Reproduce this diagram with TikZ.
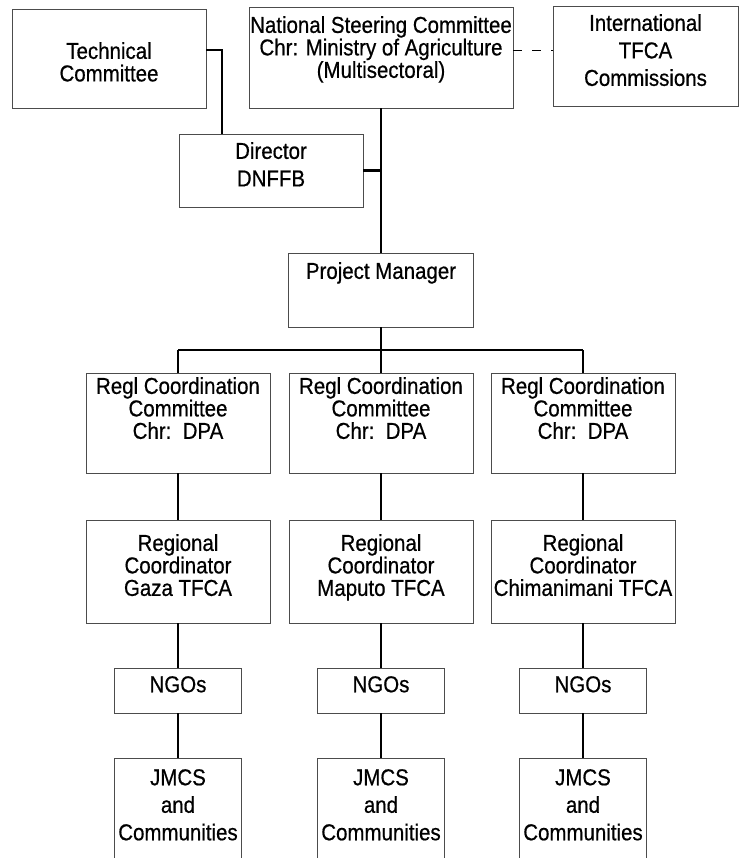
\documentclass[tikz,border=0pt]{standalone}
\usepackage{fontspec}
\setmainfont{Liberation Sans}[FakeStretch=0.89, FakeBold=0.6]
\begin{document}
\begin{tikzpicture}[x=1pt,y=-1pt,
  box/.style={draw=black!70, line width=0.9pt, inner sep=0pt},
  txt/.style={inner sep=0pt, align=center, anchor=north, font=\fontsize{23}{22.5}\selectfont},
  txtw/.style={inner sep=0pt, align=center, anchor=north, font=\fontsize{23}{27.5}\selectfont},
  mainline/.style={line width=2.2pt},
  subline/.style={line width=1.7pt},
  dashlink/.style={line width=0.9pt, dash pattern=on 9pt off 10pt}]
\clip (0,0) rectangle (739,858);
\useasboundingbox (0,0) rectangle (739,858);

% top row
\node[box, minimum width=194pt, minimum height=99pt] (tech) at (109,58.5) {};
\node[txt] (techT) at (109,42) {Technical\\Committee};
\node[box, minimum width=264pt, minimum height=101pt] (nsc) at (381,57.5) {};
\node[txt] (nscT) at (381,16) {National Steering Committee\\Chr: Ministry of Agriculture\\(Multisectoral)};
\node[box, minimum width=185pt, minimum height=100pt] (intl) at (645.5,56) {};
\node[txtw] (intlT) at (645.5,14) {International\\TFCA\\Commissions};

% director and project manager
\node[box, minimum width=184pt, minimum height=73pt] (dir) at (271,170.5) {};
\node[txtw] (dirT) at (271,142) {Director\\DNFFB};
\node[box, minimum width=185pt, minimum height=74pt] (pm) at (381,290) {};
\node[txt] (pmT) at (381,262) {Project Manager};

% columns
\foreach \n/\x/\place in {L/178/Gaza, M/381/Maputo, R/583/Chimanimani}{
  \node[box, minimum width=184pt, minimum height=100pt] (regl\n) at (\x,423) {};
  \node[txt] (reglT\n) at (\x,377) {Regl Coordination\\Committee\\Chr:\ \ DPA};
  \node[box, minimum width=184pt, minimum height=103pt] (reg\n) at (\x,571.5) {};
  \node[txt] (regT\n) at (\x,534) {Regional\\Coordinator\\\place\ TFCA};
  \node[box, minimum width=127pt, minimum height=45pt] (ngo\n) at (\x,690.5) {};
  \node[txt] (ngoT\n) at (\x,676) {NGOs};
  \node[box, minimum width=127pt, minimum height=122pt] (jmcs\n) at (\x,819) {};
  \node[txtw] (jmcsT\n) at (\x,769) {JMCS\\and\\Communities};
  \draw[subline] (regl\n.south) -- (reg\n.north);
  \draw[subline] (reg\n.south) -- (ngo\n.north);
  \draw[subline] (ngo\n.south) -- (jmcs\n.north);
}

% connectors
\coordinate (tdj) at (222,50);
\draw[line width=2.6pt] (tech.east |- tdj) -- (tdj) -- (tdj |- dir.north);
\draw[mainline] (nsc.south) -- (pm.north);
\draw[mainline] (dir.east) -- (dir.east -| nsc.south);
\draw[dashlink] ([yshift=7.5pt]nsc.east) -- ([yshift=6pt]intl.west);
\coordinate (busL) at (178,350);
\coordinate (busR) at (583,350);
\draw[mainline] (busL) -- (busR);
\draw[mainline] (pm.south) -- (pm.south |- busL);
\draw[subline] (busL) -- (reglL.north);
\draw[subline] (pm.south |- busL) -- (reglM.north);
\draw[subline] (busR) -- (reglR.north);
\end{tikzpicture}
\end{document}
